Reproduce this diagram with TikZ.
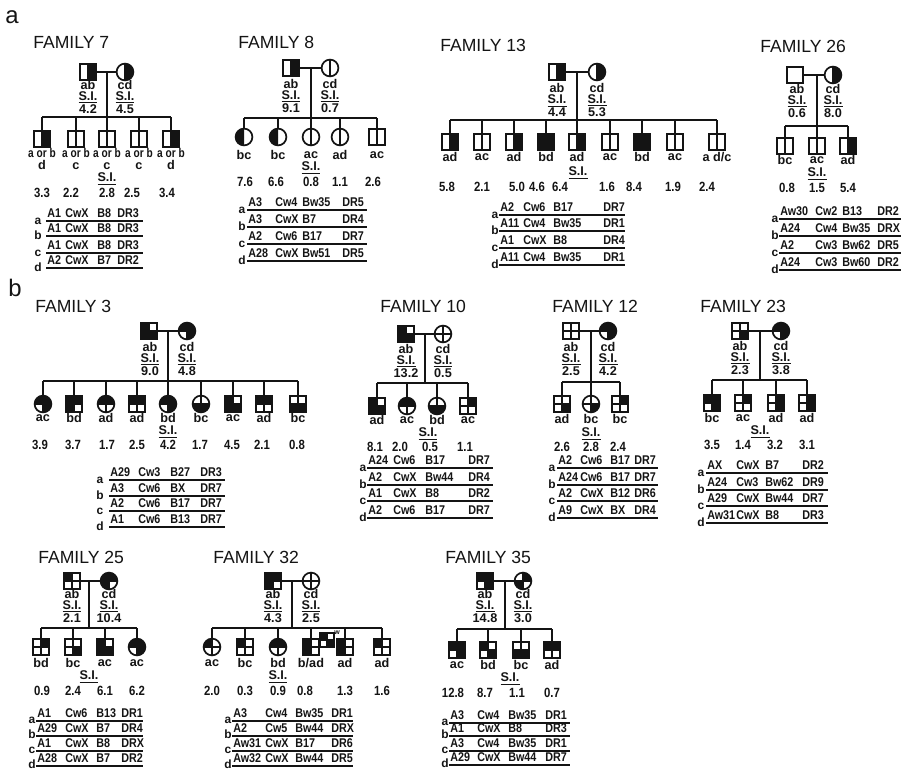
\documentclass[tikz,border=0pt]{standalone}
\usepackage{fontspec}
\setmainfont{Liberation Sans}
\usetikzlibrary{positioning}
\definecolor{ink}{HTML}{141414}
\tikzset{
  psq/.style={draw=ink,rectangle,minimum size=4mm,inner sep=0pt,outer sep=0pt,line width=1.2pt},
  pci/.style={draw=ink,circle,minimum size=4.2mm,inner sep=0pt,outer sep=0pt,line width=1.2pt},
  link/.style={draw=ink,line width=1.2pt},
  rule/.style={draw=ink,line width=0.9pt},
  title/.style={font=\fontsize{12.5}{14}\selectfont,inner sep=0pt,anchor=west,text=ink},
  panel/.style={font=\fontsize{17}{18}\selectfont,inner sep=0pt,text=ink},
  gt/.style={font=\bfseries\fontsize{9}{8.5}\selectfont,inner sep=0pt,align=center,text=ink},
  pst/.style={font=\bfseries\fontsize{9}{8}\selectfont,inner sep=0pt,align=center,text=ink},
  si/.style={font=\bfseries\fontsize{9}{9}\selectfont,inner sep=0pt,text=ink},
  val/.style={font=\bfseries\fontsize{9.5}{10}\selectfont,inner sep=0pt,text=ink},
  hl/.style={font=\bfseries\fontsize{9}{9}\selectfont,inner sep=0pt,anchor=base west,text=ink},
  hlet/.style={font=\bfseries\fontsize{8.5}{9}\selectfont,inner sep=0pt,anchor=base,text=ink}
}
\newcommand{\nar}[1]{\scalebox{0.85}[1]{#1}}
\newcommand{\vmid}[1]{\draw[link] (#1.north) -- (#1.south);}
\newcommand{\xmid}[1]{\draw[link] (#1.north) -- (#1.south) (#1.west) -- (#1.east);}
% square quadrants by anchor, circle quadrants by start angle (0 = upper right)
\newcommand{\sqfill}[2]{\foreach \c in {#2}{\fill[ink] (#1.center) rectangle (#1.\c);}}
\newcommand{\cifill}[2]{\foreach \a in {#2}{\fill[ink] (#1.center) -- ++(\a:2.1mm) arc[start angle=\a,delta angle=90,radius=2.1mm] -- cycle;}}
\newcommand{\SI}{\underline{S.I.}}

\begin{document}
\begin{tikzpicture}[x=0.025cm,y=0.025cm]
  \fill[white] (0,0) rectangle (902,-771);
  \useasboundingbox (0,0) rectangle (902,-771);

  \node[panel] (pa) at (12,-17) {a};
  \node[panel] (pb) at (15,-288) {b};

  % family 7
  \node[title] (t7) at (33,-42) {FAMILY 7};
  \node[psq] (f7p) at (88,-72) {};
  \node[pci] (f7m) at (125,-72) {};
  \sqfill{f7p}{north east,south east}\vmid{f7p}
  \cifill{f7m}{270,0}\vmid{f7m}
  \draw[link] (f7p) -- (f7m);
  \coordinate (f7d) at (107,-117);
  \draw[link] (f7d |- f7p) -- (f7d);
  \foreach \i/\x in {1/42,2/76,3/107,4/139,5/171}{
    \node[psq] (f7c\i) at (\x,-139) {};
    \vmid{f7c\i}
    \draw[link] (f7c\i) -- (f7c\i |- f7d);
  }
  \draw[link] (f7c1 |- f7d) -- (f7c5 |- f7d);
  \sqfill{f7c1}{north east,south east}
  \sqfill{f7c5}{north east,south east}
  \node[pst] (s7p) at (88,-97) {ab\\\SI\\4.2};
  \node[pst] (s7m) at (125,-97) {cd\\\SI\\4.5};
  \foreach \i/\t in {1/d,2/c,3/c,4/c,5/d}{
    \node[gt] (g7c\i) at (f7c\i |- 0,-159) {\scalebox{0.8}[1]{a or b}\\\t};
  }
  \node[si] (s7c) at (107,-179) {\SI};
  \foreach \x/\v in {42/3.3,71/2.2,107/2.8,132/2.5,167/3.4}{
    \node[val] (v7c\x) at (\x,-193) {\nar{\v}};
  }
  \foreach \r/\y/\A/\C/\B/\D in {a/217/A1/CwX/B8/DR3,b/232/A1/CwX/B8/DR3,c/249/A1/CwX/B8/DR3,d/264/A2/CwX/B7/DR2}{
    \node[hlet] (h7\r) at (38,-\y-7) {\r};
    \node[hl] (h7\r-A) at (47,-\y) {\nar{\A}};
    \node[hl] (h7\r-C) at (65,-\y) {\nar{\C}};
    \node[hl] (h7\r-B) at (97,-\y) {\nar{\B}};
    \node[hl] (h7\r-D) at (117,-\y) {\nar{\D}};
    \draw[rule] (46,-\y-4) -- (143,-\y-4);
  }

  % family 8
  \node[title] (t8) at (238,-42) {FAMILY 8};
  \node[psq] (f8p) at (291,-68) {};
  \node[pci] (f8m) at (330,-68) {};
  \sqfill{f8p}{north east,south east}\vmid{f8p}
  \vmid{f8m}
  \draw[link] (f8p) -- (f8m);
  \coordinate (f8d) at (311,-118);
  \draw[link] (f8d |- f8p) -- (f8d);
  \foreach \i/\x/\s in {1/244/pci,2/278/pci,3/311/pci,4/340/pci,5/377/psq}{
    \node[\s] (f8c\i) at (\x,-137) {};
    \draw[link] (f8c\i) -- (f8c\i |- f8d);
  }
  \draw[link] (f8c1 |- f8d) -- (f8c5 |- f8d);
  \cifill{f8c1}{90,180}
  \cifill{f8c2}{90,180}
  \vmid{f8c3}\vmid{f8c4}\vmid{f8c5}
  \node[pst] (s8p) at (291,-96) {ab\\\SI\\9.1};
  \node[pst] (s8m) at (330,-96) {cd\\\SI\\0.7};
  \foreach \i/\t in {1/bc,2/bc,3/ac,4/ad,5/ac}{
    \node[gt] (g8c\i) at (f8c\i |- 0,-155) {\t};
  }
  \node[si] (s8c) at (311,-168) {\SI};
  \foreach \x/\v in {245/7.6,276/6.6,311/0.8,340/1.1,373/2.6}{
    \node[val] (v8c\x) at (\x,-182) {\nar{\v}};
  }
  \foreach \r/\y/\A/\C/\B/\D in {a/206/A3/Cw4/Bw35/DR5,b/223/A3/CwX/B7/DR4,c/240/A2/Cw6/B17/DR7,d/257/A28/CwX/Bw51/DR5}{
    \node[hlet] (h8\r) at (242,-\y-7) {\r};
    \node[hl] (h8\r-A) at (248,-\y) {\nar{\A}};
    \node[hl] (h8\r-C) at (275,-\y) {\nar{\C}};
    \node[hl] (h8\r-B) at (302,-\y) {\nar{\B}};
    \node[hl] (h8\r-D) at (342,-\y) {\nar{\D}};
    \draw[rule] (247,-\y-4) -- (367,-\y-4);
  }

  % family 13
  \node[title] (t13) at (440,-45) {FAMILY 13};
  \node[psq] (f13p) at (557,-72) {};
  \node[pci] (f13m) at (597,-72) {};
  \sqfill{f13p}{north east,south east}\vmid{f13p}
  \cifill{f13m}{270,0}\vmid{f13m}
  \draw[link] (f13p) -- (f13m);
  \coordinate (f13d) at (577,-120);
  \draw[link] (f13d |- f13p) -- (f13d);
  \foreach \i/\x in {1/450,2/482,3/514,4/546,5/577,6/610,7/642,8/675,9/717}{
    \node[psq] (f13c\i) at (\x,-142) {};
    \vmid{f13c\i}
    \draw[link] (f13c\i) -- (f13c\i |- f13d);
  }
  \draw[link] (f13c1 |- f13d) -- (f13c9 |- f13d);
  \sqfill{f13c1}{north east,south east}
  \sqfill{f13c3}{north east,south east}
  \sqfill{f13c4}{north east,south east,north west,south west}
  \sqfill{f13c5}{north east,south east}
  \sqfill{f13c7}{north east,south east,north west,south west}
  \node[pst] (s13p) at (557,-100) {ab\\\SI\\4.4};
  \node[pst] (s13m) at (597,-100) {cd\\\SI\\5.3};
  \foreach \i/\t in {1/ad,2/ac,3/ad,4/bd,5/ad,6/ac,7/bd,8/ac,9/{a d/c}}{
    \node[gt] (g13c\i) at (f13c\i |- 0,-157) {\t};
  }
  \node[si] (s13c) at (578,-173) {\SI};
  \foreach \x/\v in {447/5.8,482/2.1,517/5.0,537/4.6,560/6.4,607/1.6,634/8.4,673/1.9,707/2.4}{
    \node[val] (v13c\x) at (\x,-187) {\nar{\v}};
  }
  \foreach \r/\y/\A/\C/\B/\D in {a/211/A2/Cw6/B17/DR7,b/227/A11/Cw4/Bw35/DR1,c/244/A1/CwX/B8/DR4,d/261/A11/Cw4/Bw35/DR1}{
    \node[hlet] (h13\r) at (495,-\y-7) {\r};
    \node[hl] (h13\r-A) at (500,-\y) {\nar{\A}};
    \node[hl] (h13\r-C) at (523,-\y) {\nar{\C}};
    \node[hl] (h13\r-B) at (553,-\y) {\nar{\B}};
    \node[hl] (h13\r-D) at (603,-\y) {\nar{\D}};
    \draw[rule] (499,-\y-4) -- (625,-\y-4);
  }

  % family 26
  \node[title] (t26) at (760,-46) {FAMILY 26};
  \node[psq] (f26p) at (795,-75) {};
  \node[pci] (f26m) at (833,-75) {};
  \cifill{f26m}{270,0}\vmid{f26m}
  \draw[link] (f26p) -- (f26m);
  \coordinate (f26d) at (817,-126);
  \draw[link] (f26d |- f26p) -- (f26d);
  \foreach \i/\x in {1/785,2/817,3/848}{
    \node[psq] (f26c\i) at (\x,-146) {};
    \vmid{f26c\i}
    \draw[link] (f26c\i) -- (f26c\i |- f26d);
  }
  \draw[link] (f26c1 |- f26d) -- (f26c3 |- f26d);
  \sqfill{f26c3}{north east,south east}
  \node[pst] (s26p) at (797,-101) {ab\\\SI\\0.6};
  \node[pst] (s26m) at (833,-101) {cd\\\SI\\8.0};
  \foreach \i/\t in {1/bc,2/ac,3/ad}{
    \node[gt] (g26c\i) at (f26c\i |- 0,-160) {\t};
  }
  \node[si] (s26c) at (817,-174) {\SI};
  \foreach \x/\v in {787/0.8,817/1.5,848/5.4}{
    \node[val] (v26c\x) at (\x,-188) {\nar{\v}};
  }
  \foreach \r/\y/\A/\C/\B/\D in {a/215/Aw30/Cw2/B13/DR2,b/232/A24/Cw4/Bw35/DRX,c/249/A2/Cw3/Bw62/DR5,d/266/A24/Cw3/Bw60/DR2}{
    \node[hlet] (h26\r) at (775,-\y-7) {\r};
    \node[hl] (h26\r-A) at (780,-\y) {\nar{\A}};
    \node[hl] (h26\r-C) at (815,-\y) {\nar{\C}};
    \node[hl] (h26\r-B) at (842,-\y) {\nar{\B}};
    \node[hl] (h26\r-D) at (877,-\y) {\nar{\D}};
    \draw[rule] (779,-\y-4) -- (901,-\y-4);
  }

  % family 3
  \node[title] (t3) at (35,-306) {FAMILY 3};
  \node[psq] (f3p) at (149,-331) {};
  \node[pci] (f3m) at (187,-331) {};
  \sqfill{f3p}{north west,south west,south east}\xmid{f3p}
  \cifill{f3m}{90,0,270}\xmid{f3m}
  \draw[link] (f3p) -- (f3m);
  \coordinate (f3d) at (168,-381);
  \draw[link] (f3d |- f3p) -- (f3d);
  \foreach \i/\x/\s in {1/43/pci,2/74/psq,3/106/pci,4/137/psq,5/168/pci,6/201/pci,7/233/psq,8/264/psq,9/298/psq}{
    \node[\s] (f3c\i) at (\x,-404) {};
    \draw[link] (f3c\i) -- (f3c\i |- f3d);
  }
  \draw[link] (f3c1 |- f3d) -- (f3c9 |- f3d);
  \cifill{f3c1}{90,0,270}
  \sqfill{f3c2}{north west,north east,south west}
  \cifill{f3c3}{90,0}
  \sqfill{f3c4}{north west,north east}
  \cifill{f3c5}{90,0,270}
  \cifill{f3c6}{180,270}
  \sqfill{f3c7}{north west,south west,south east}
  \sqfill{f3c8}{north west,north east}
  \sqfill{f3c9}{south west,south east}
  \foreach \i in {1,...,9}{\xmid{f3c\i}}
  \node[pst] (s3p) at (150,-359) {ab\\\SI\\9.0};
  \node[pst] (s3m) at (187,-359) {cd\\\SI\\4.8};
  \foreach \i/\t in {1/ac,2/bd,3/ad,4/ad,5/bd,6/bc,7/ac,8/ad,9/bc}{
    \node[gt] (g3c\i) at (f3c\i |- 0,-418) {\t};
  }
  \node[si] (s3c) at (168,-432) {\SI};
  \foreach \x/\v in {40/3.9,73/3.7,107/1.7,137/2.5,168/4.2,200/1.7,232/4.5,262/2.1,297/0.8}{
    \node[val] (v3c\x) at (\x,-445) {\nar{\v}};
  }
  \foreach \r/\y/\A/\C/\B/\D in {a/476/A29/Cw3/B27/DR3,b/492/A3/Cw6/BX/DR7,c/507/A2/Cw6/B17/DR7,d/523/A1/Cw6/B13/DR7}{
    \node[hlet] (h3\r) at (100,-\y-7) {\r};
    \node[hl] (h3\r-A) at (110,-\y) {\nar{\A}};
    \node[hl] (h3\r-C) at (138,-\y) {\nar{\C}};
    \node[hl] (h3\r-B) at (170,-\y) {\nar{\B}};
    \node[hl] (h3\r-D) at (200,-\y) {\nar{\D}};
    \draw[rule] (109,-\y-4) -- (225,-\y-4);
  }

  % family 10
  \node[title] (t10) at (380,-306) {FAMILY 10};
  \node[psq] (f10p) at (406,-334) {};
  \node[pci] (f10m) at (443,-334) {};
  \sqfill{f10p}{north west,south west,south east}\xmid{f10p}
  \xmid{f10m}
  \draw[link] (f10p) -- (f10m);
  \coordinate (f10d) at (425,-383);
  \draw[link] (f10d |- f10p) -- (f10d);
  \foreach \i/\x/\s in {1/377/psq,2/407/pci,3/437/pci,4/468/psq}{
    \node[\s] (f10c\i) at (\x,-406) {};
    \draw[link] (f10c\i) -- (f10c\i |- f10d);
  }
  \draw[link] (f10c1 |- f10d) -- (f10c4 |- f10d);
  \sqfill{f10c1}{north west,south west,south east}
  \cifill{f10c2}{90,0}
  \cifill{f10c3}{180,270}
  \sqfill{f10c4}{north east}
  \foreach \i in {1,...,4}{\xmid{f10c\i}}
  \node[pst] (s10p) at (406,-361) {ab\\\SI\\13.2};
  \node[pst] (s10m) at (443,-361) {cd\\\SI\\0.5};
  \foreach \i/\t in {1/ad,2/ac,3/bd,4/ac}{
    \node[gt] (g10c\i) at (f10c\i |- 0,-420) {\t};
  }
  \node[si] (s10c) at (428,-434) {\SI};
  \foreach \x/\v in {375/8.1,400/2.0,430/0.5,465/1.1}{
    \node[val] (v10c\x) at (\x,-447) {\nar{\v}};
  }
  \foreach \r/\y/\A/\C/\B/\D in {a/464/A24/Cw6/B17/DR7,b/481/A2/CwX/Bw44/DR4,c/497/A1/CwX/B8/DR2,d/514/A2/Cw6/B17/DR7}{
    \node[hlet] (h10\r) at (363,-\y-7) {\r};
    \node[hl] (h10\r-A) at (368,-\y) {\nar{\A}};
    \node[hl] (h10\r-C) at (393,-\y) {\nar{\C}};
    \node[hl] (h10\r-B) at (425,-\y) {\nar{\B}};
    \node[hl] (h10\r-D) at (468,-\y) {\nar{\D}};
    \draw[rule] (367,-\y-4) -- (493,-\y-4);
  }

  % family 12
  \node[title] (t12) at (552,-306) {FAMILY 12};
  \node[psq] (f12p) at (571,-331) {};
  \node[pci] (f12m) at (608,-331) {};
  \xmid{f12p}
  \cifill{f12m}{90,0,270}\xmid{f12m}
  \draw[link] (f12p) -- (f12m);
  \coordinate (f12d) at (591,-382);
  \draw[link] (f12d |- f12p) -- (f12d);
  \foreach \i/\x/\s in {1/562/psq,2/591/pci,3/620/psq}{
    \node[\s] (f12c\i) at (\x,-404) {};
    \draw[link] (f12c\i) -- (f12c\i |- f12d);
  }
  \draw[link] (f12c1 |- f12d) -- (f12c3 |- f12d);
  \sqfill{f12c1}{south east}
  \cifill{f12c2}{270}
  \sqfill{f12c3}{north east}
  \foreach \i in {1,...,3}{\xmid{f12c\i}}
  \node[pst] (s12p) at (571,-359) {ab\\\SI\\2.5};
  \node[pst] (s12m) at (608,-359) {cd\\\SI\\4.2};
  \foreach \i/\t in {1/ad,2/bc,3/bc}{
    \node[gt] (g12c\i) at (f12c\i |- 0,-419) {\t};
  }
  \node[si] (s12c) at (591,-434) {\SI};
  \foreach \x/\v in {562/2.6,591/2.8,618/2.4}{
    \node[val] (v12c\x) at (\x,-447) {\nar{\v}};
  }
  \foreach \r/\y/\A/\C/\B/\D in {a/464/A2/Cw6/B17/DR7,b/481/A24/Cw6/B17/DR7,c/497/A2/CwX/B12/DR6,d/514/A9/CwX/BX/DR4}{
    \node[hlet] (h12\r) at (552,-\y-7) {\r};
    \node[hl] (h12\r-A) at (558,-\y) {\nar{\A}};
    \node[hl] (h12\r-C) at (580,-\y) {\nar{\C}};
    \node[hl] (h12\r-B) at (610,-\y) {\nar{\B}};
    \node[hl] (h12\r-D) at (634,-\y) {\nar{\D}};
    \draw[rule] (557,-\y-4) -- (658,-\y-4);
  }

  % family 23
  \node[title] (t23) at (700,-306) {FAMILY 23};
  \node[psq] (f23p) at (740,-331) {};
  \node[pci] (f23m) at (781,-331) {};
  \sqfill{f23p}{south east}\xmid{f23p}
  \cifill{f23m}{90,0,270}\xmid{f23m}
  \draw[link] (f23p) -- (f23m);
  \coordinate (f23d) at (760,-380);
  \draw[link] (f23d |- f23p) -- (f23d);
  \foreach \i/\x in {1/712,2/743,3/776,4/807}{
    \node[psq] (f23c\i) at (\x,-403) {};
    \draw[link] (f23c\i) -- (f23c\i |- f23d);
  }
  \draw[link] (f23c1 |- f23d) -- (f23c4 |- f23d);
  \sqfill{f23c1}{north west,north east,south east}
  \sqfill{f23c2}{north east}
  \sqfill{f23c3}{north east,south east}
  \sqfill{f23c4}{north east,south east}
  \foreach \i in {1,...,4}{\xmid{f23c\i}}
  \node[pst] (s23p) at (740,-358) {ab\\\SI\\2.3};
  \node[pst] (s23m) at (781,-358) {cd\\\SI\\3.8};
  \foreach \i/\t in {1/bc,2/ac,3/ad,4/ad}{
    \node[gt] (g23c\i) at (f23c\i |- 0,-418) {\t};
  }
  \node[si] (s23c) at (760,-432) {\SI};
  \foreach \x/\v in {712/3.5,743/1.4,775/3.2,807/3.1}{
    \node[val] (v23c\x) at (\x,-445) {\nar{\v}};
  }
  \foreach \r/\y/\A/\C/\B/\D in {a/469/AX/CwX/B7/DR2,b/486/A24/Cw3/Bw62/DR9,c/502/A29/CwX/Bw44/DR7,d/519/Aw31/CwX/B8/DR3}{
    \node[hlet] (h23\r) at (701,-\y-7) {\r};
    \node[hl] (h23\r-A) at (707,-\y) {\nar{\A}};
    \node[hl] (h23\r-C) at (736,-\y) {\nar{\C}};
    \node[hl] (h23\r-B) at (765,-\y) {\nar{\B}};
    \node[hl] (h23\r-D) at (802,-\y) {\nar{\D}};
    \draw[rule] (706,-\y-4) -- (828,-\y-4);
  }

  % family 25
  \node[title] (t25) at (38,-557) {FAMILY 25};
  \node[psq] (f25p) at (72,-581) {};
  \node[pci] (f25m) at (109,-581) {};
  \sqfill{f25p}{north west}\xmid{f25p}
  \cifill{f25m}{90,0,180}\xmid{f25m}
  \draw[link] (f25p) -- (f25m);
  \coordinate (f25d) at (89,-628);
  \draw[link] (f25d |- f25p) -- (f25d);
  \foreach \i/\x/\s in {1/41/psq,2/73/psq,3/105/psq,4/137/pci}{
    \node[\s] (f25c\i) at (\x,-647) {};
    \draw[link] (f25c\i) -- (f25c\i |- f25d);
  }
  \draw[link] (f25c1 |- f25d) -- (f25c4 |- f25d);
  \sqfill{f25c1}{north east}
  \sqfill{f25c2}{south east}
  \sqfill{f25c3}{north west,south west,south east}
  \cifill{f25c4}{90,0,270}
  \foreach \i in {1,...,4}{\xmid{f25c\i}}
  \node[pst] (s25p) at (72,-606) {ab\\\SI\\2.1};
  \node[pst] (s25m) at (109,-606) {cd\\\SI\\10.4};
  \foreach \i/\t in {1/bd,2/bc,3/ac,4/ac}{
    \node[gt] (g25c\i) at (f25c\i |- 0,-663) {\t};
  }
  \node[si] (s25c) at (89,-677) {\SI};
  \foreach \x/\v in {42/0.9,73/2.4,105/6.1,137/6.2}{
    \node[val] (v25c\x) at (\x,-691) {\nar{\v}};
  }
  \foreach \r/\y/\A/\C/\B/\D in {a/717/A1/Cw6/B13/DR1,b/732/A29/CwX/B7/DR4,c/747/A1/CwX/B8/DRX,d/762/A28/CwX/B7/DR2}{
    \node[hlet] (h25\r) at (32,-\y-6) {\r};
    \node[hl] (h25\r-A) at (37,-\y) {\nar{\A}};
    \node[hl] (h25\r-C) at (65,-\y) {\nar{\C}};
    \node[hl] (h25\r-B) at (96,-\y) {\nar{\B}};
    \node[hl] (h25\r-D) at (121,-\y) {\nar{\D}};
    \draw[rule] (36,-\y-4) -- (143,-\y-4);
  }

  % family 32
  \node[title] (t32) at (213,-557) {FAMILY 32};
  \node[psq] (f32p) at (273,-581) {};
  \node[pci] (f32m) at (311,-581) {};
  \sqfill{f32p}{north west,north east,south west}\xmid{f32p}
  \xmid{f32m}
  \draw[link] (f32p) -- (f32m);
  \coordinate (f32d) at (292,-628);
  \draw[link] (f32d |- f32p) -- (f32d);
  \foreach \i/\x/\s in {1/212/pci,2/245/psq,3/278/pci,4/311/psq,5/345/psq,6/382/psq}{
    \node[\s] (f32c\i) at (\x,-647) {};
    \draw[link] (f32c\i) -- (f32c\i |- f32d);
  }
  \draw[link] (f32c1 |- f32d) -- (f32c6 |- f32d);
  \cifill{f32c1}{90}
  \sqfill{f32c2}{north west}
  \cifill{f32c3}{90,0}
  \sqfill{f32c4}{north west,south west}
  \sqfill{f32c5}{north west,south west}
  \sqfill{f32c6}{north west}
  \foreach \i in {1,...,6}{\xmid{f32c\i}}
  \node[psq,minimum size=3.5mm] (f32x) at (327,-640) {};
  \sqfill{f32x}{north west,south east}\xmid{f32x}
  \node[gt,font=\bfseries\fontsize{5}{5}\selectfont] (f32w) at (337,-633) {w};
  \node[pst] (s32p) at (273,-606) {ab\\\SI\\4.3};
  \node[pst] (s32m) at (311,-606) {cd\\\SI\\2.5};
  \foreach \i/\t in {1/ac,2/bc,3/bd,4/{b/ad},5/ad,6/ad}{
    \node[gt] (g32c\i) at (f32c\i |- 0,-663) {\t};
  }
  \node[si] (s32c) at (278,-677) {\SI};
  \foreach \x/\v in {212/2.0,245/0.3,278/0.9,305/0.8,345/1.3,382/1.6}{
    \node[val] (v32c\x) at (\x,-691) {\nar{\v}};
  }
  \foreach \r/\y/\A/\C/\B/\D in {a/717/A3/Cw4/Bw35/DR1,b/732/A2/Cw5/Bw44/DRX,c/747/Aw31/CwX/B17/DR6,d/762/Aw32/CwX/Bw44/DR5}{
    \node[hlet] (h32\r) at (228,-\y-6) {\r};
    \node[hl] (h32\r-A) at (233,-\y) {\nar{\A}};
    \node[hl] (h32\r-C) at (265,-\y) {\nar{\C}};
    \node[hl] (h32\r-B) at (295,-\y) {\nar{\B}};
    \node[hl] (h32\r-D) at (331,-\y) {\nar{\D}};
    \draw[rule] (232,-\y-4) -- (353,-\y-4);
  }

  % family 35
  \node[title] (t35) at (445,-557) {FAMILY 35};
  \node[psq] (f35p) at (485,-581) {};
  \node[pci] (f35m) at (523,-581) {};
  \sqfill{f35p}{north west,north east,south east}\xmid{f35p}
  \cifill{f35m}{0,180}\xmid{f35m}
  \draw[link] (f35p) -- (f35m);
  \coordinate (f35d) at (505,-629);
  \draw[link] (f35d |- f35p) -- (f35d);
  \foreach \i/\x in {1/457,2/488,3/521,4/552}{
    \node[psq] (f35c\i) at (\x,-650) {};
    \draw[link] (f35c\i) -- (f35c\i |- f35d);
  }
  \draw[link] (f35c1 |- f35d) -- (f35c4 |- f35d);
  \sqfill{f35c1}{north west,north east,south east}
  \sqfill{f35c2}{north west,south east}
  \sqfill{f35c3}{south west,south east}
  \sqfill{f35c4}{north west,north east}
  \foreach \i in {1,...,4}{\xmid{f35c\i}}
  \node[pst] (s35p) at (485,-606) {ab\\\SI\\14.8};
  \node[pst] (s35m) at (523,-606) {cd\\\SI\\3.0};
  \foreach \i/\t in {1/ac,2/bd,3/bc,4/ad}{
    \node[gt] (g35c\i) at (f35c\i |- 0,-665) {\t};
  }
  \node[si] (s35c) at (510,-679) {\SI};
  \foreach \x/\v in {453/12.8,485/8.7,517/1.1,552/0.7}{
    \node[val] (v35c\x) at (\x,-693) {\nar{\v}};
  }
  \foreach \r/\y/\A/\C/\B/\D in {a/719/A3/Cw4/Bw35/DR1,b/732/A1/CwX/B8/DR3,c/747/A3/Cw4/Bw35/DR1,d/761/A29/CwX/Bw44/DR7}{
    \node[hlet] (h35\r) at (445,-\y-6) {\r};
    \node[hl] (h35\r-A) at (450,-\y) {\nar{\A}};
    \node[hl] (h35\r-C) at (477,-\y) {\nar{\C}};
    \node[hl] (h35\r-B) at (508,-\y) {\nar{\B}};
    \node[hl] (h35\r-D) at (545,-\y) {\nar{\D}};
    \draw[rule] (449,-\y-4) -- (570,-\y-4);
  }
\end{tikzpicture}
\end{document}
